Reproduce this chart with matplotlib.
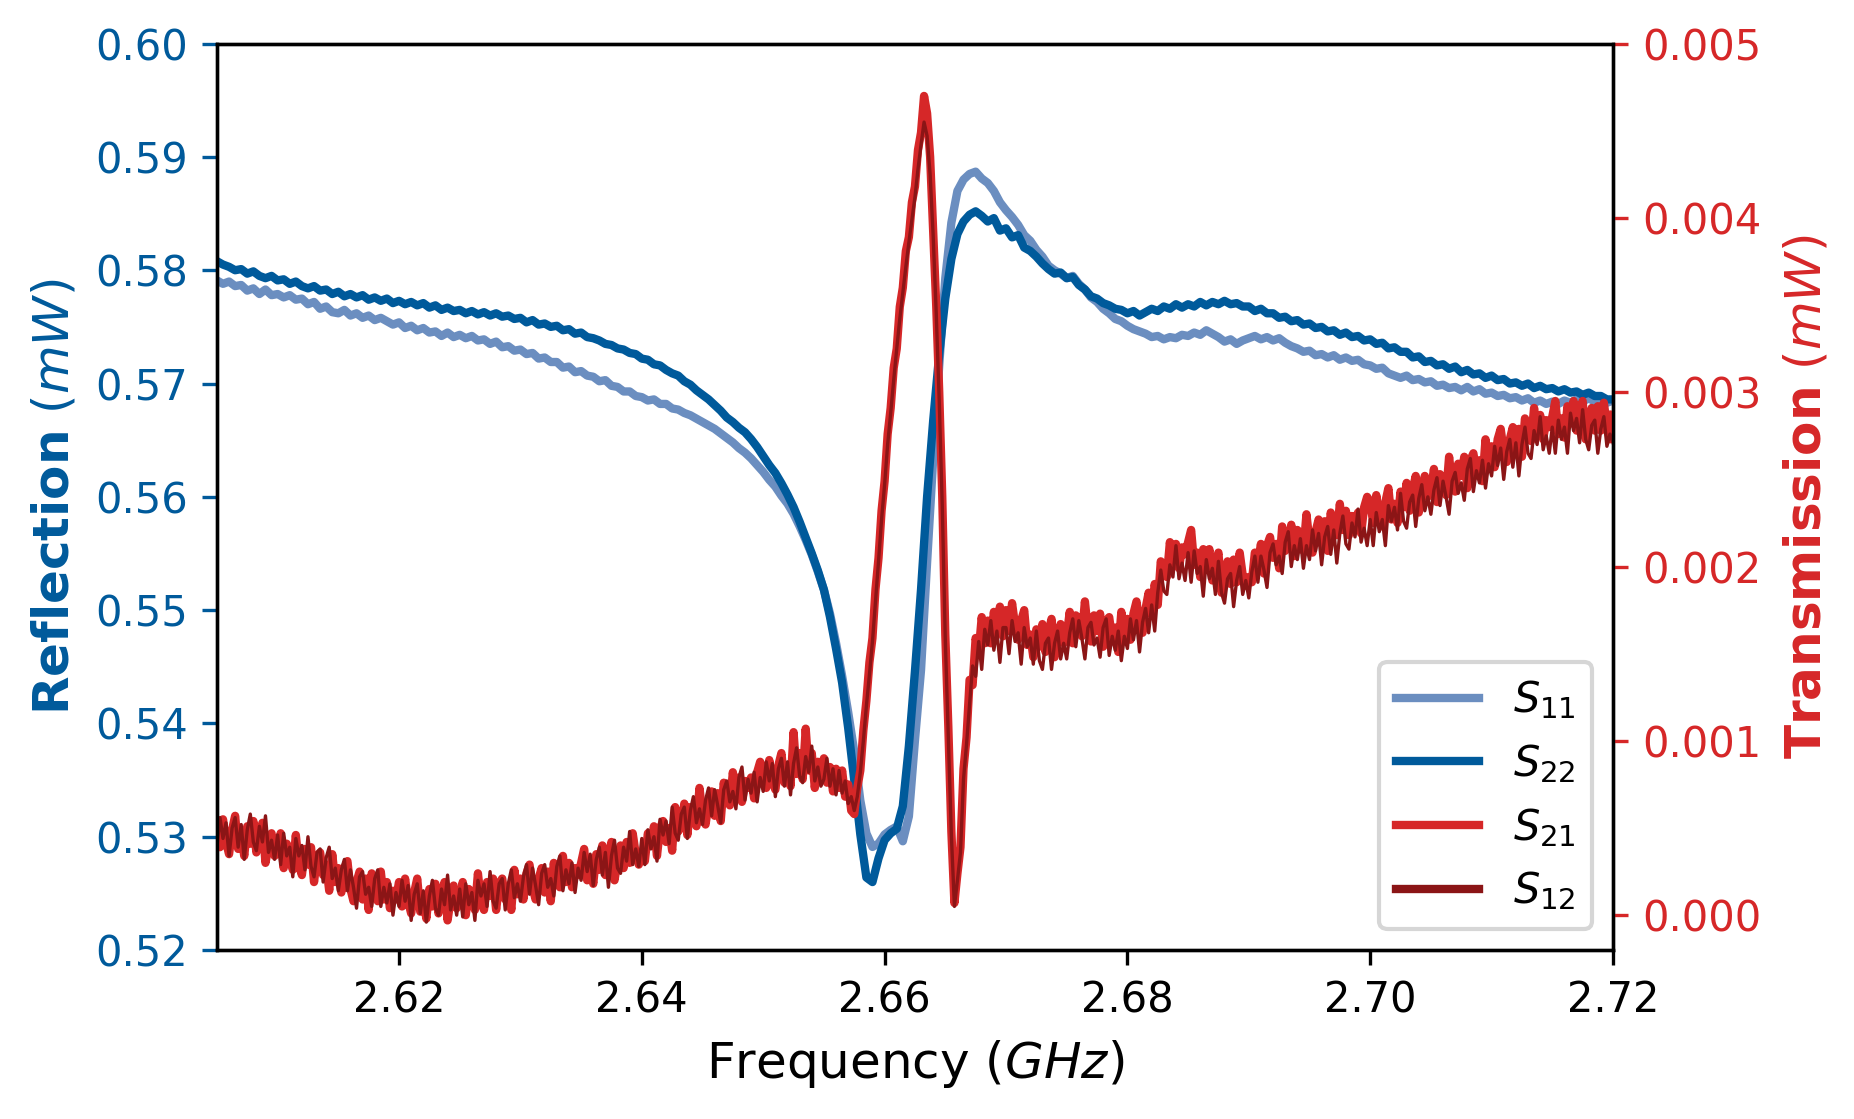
import numpy as np
import matplotlib
matplotlib.use('Agg')
from matplotlib import pyplot as plt

# reflection sweep: 231 points, transmission sweep: 461 points (2.605 - 2.720 GHz)
freq_r = np.linspace(2.605, 2.72, 231)
freq_t = np.linspace(2.605, 2.72, 461)

# reflection (mW)
s11 = [0.5791, 0.5788, 0.5790, 0.5786, 0.5787, 0.5782, 0.5784, 0.5779, 0.5783, 0.5778,
       0.5779, 0.5776, 0.5778, 0.5774, 0.5775, 0.5770, 0.5772, 0.5766, 0.5768, 0.5763,
       0.5762, 0.5765, 0.5760, 0.5762, 0.5758, 0.5760, 0.5756, 0.5758, 0.5755, 0.5752,
       0.5754, 0.5749, 0.5751, 0.5747, 0.5749, 0.5745, 0.5746, 0.5742, 0.5745, 0.5741,
       0.5743, 0.5740, 0.5742, 0.5738, 0.5739, 0.5735, 0.5737, 0.5732, 0.5733, 0.5729,
       0.5730, 0.5726, 0.5727, 0.5722, 0.5723, 0.5719, 0.5719, 0.5714, 0.5715, 0.5710,
       0.5711, 0.5707, 0.5706, 0.5702, 0.5703, 0.5698, 0.5697, 0.5693, 0.5693, 0.5689,
       0.5688, 0.5685, 0.5686, 0.5682, 0.5682, 0.5678, 0.5677, 0.5674, 0.5672, 0.5669,
       0.5666, 0.5663, 0.5660, 0.5656, 0.5652, 0.5648, 0.5643, 0.5639, 0.5634, 0.5628,
       0.5622, 0.5615, 0.5609, 0.5601, 0.5594, 0.5585, 0.5574, 0.5562, 0.5549, 0.5534,
       0.5518, 0.5497, 0.5471, 0.5442, 0.5410, 0.5375, 0.5332, 0.5303, 0.5291, 0.5294,
       0.5302, 0.5306, 0.5309, 0.5296, 0.5318, 0.5385, 0.5447, 0.5542, 0.5633, 0.5716,
       0.5793, 0.5842, 0.5870, 0.5880, 0.5885, 0.5887, 0.5881, 0.5877, 0.5870, 0.5860,
       0.5853, 0.5847, 0.5840, 0.5831, 0.5826, 0.5818, 0.5812, 0.5804, 0.5800, 0.5797,
       0.5793, 0.5795, 0.5788, 0.5783, 0.5776, 0.5772, 0.5766, 0.5762, 0.5757, 0.5755,
       0.5751, 0.5748, 0.5746, 0.5744, 0.5741, 0.5742, 0.5739, 0.5741, 0.5740, 0.5743,
       0.5742, 0.5745, 0.5743, 0.5747, 0.5744, 0.5741, 0.5737, 0.5739, 0.5735, 0.5738,
       0.5740, 0.5742, 0.5739, 0.5741, 0.5738, 0.5740, 0.5736, 0.5733, 0.5731, 0.5728,
       0.5729, 0.5725, 0.5726, 0.5723, 0.5725, 0.5721, 0.5723, 0.5720, 0.5721, 0.5717,
       0.5716, 0.5713, 0.5714, 0.5709, 0.5707, 0.5705, 0.5707, 0.5703, 0.5704, 0.5701,
       0.5702, 0.5698, 0.5699, 0.5696, 0.5697, 0.5694, 0.5697, 0.5693, 0.5695, 0.5691,
       0.5692, 0.5689, 0.5690, 0.5687, 0.5688, 0.5685, 0.5687, 0.5683, 0.5685, 0.5682,
       0.5684, 0.5682, 0.5685, 0.5683, 0.5686, 0.5684, 0.5687, 0.5684, 0.5686, 0.5683,
       0.5685]

s22 = [0.5808, 0.5805, 0.5803, 0.5800, 0.5801, 0.5797, 0.5799, 0.5795, 0.5793, 0.5795,
       0.5791, 0.5792, 0.5788, 0.5790, 0.5786, 0.5784, 0.5786, 0.5782, 0.5783, 0.5779,
       0.5781, 0.5777, 0.5779, 0.5776, 0.5778, 0.5774, 0.5776, 0.5773, 0.5775, 0.5771,
       0.5773, 0.5770, 0.5772, 0.5769, 0.5771, 0.5767, 0.5769, 0.5765, 0.5767, 0.5764,
       0.5765, 0.5762, 0.5764, 0.5761, 0.5763, 0.5760, 0.5762, 0.5759, 0.5760, 0.5757,
       0.5758, 0.5754, 0.5756, 0.5752, 0.5753, 0.5750, 0.5751, 0.5747, 0.5748, 0.5744,
       0.5745, 0.5741, 0.5740, 0.5738, 0.5735, 0.5734, 0.5731, 0.5730, 0.5727, 0.5726,
       0.5722, 0.5721, 0.5717, 0.5716, 0.5712, 0.5709, 0.5707, 0.5702, 0.5699, 0.5694,
       0.5690, 0.5686, 0.5681, 0.5676, 0.5670, 0.5666, 0.5661, 0.5657, 0.5651, 0.5644,
       0.5636, 0.5628, 0.5621, 0.5612, 0.5602, 0.5591, 0.5578, 0.5564, 0.5550, 0.5535,
       0.5518, 0.5494, 0.5466, 0.5436, 0.5396, 0.5350, 0.5302, 0.5264, 0.5260, 0.5281,
       0.5297, 0.5303, 0.5307, 0.5327, 0.5380, 0.5446, 0.5518, 0.5600, 0.5667, 0.5726,
       0.5775, 0.5810, 0.5832, 0.5843, 0.5849, 0.5852, 0.5848, 0.5843, 0.5846, 0.5835,
       0.5837, 0.5829, 0.5831, 0.5820, 0.5817, 0.5812, 0.5806, 0.5801, 0.5797, 0.5798,
       0.5793, 0.5794, 0.5787, 0.5783, 0.5777, 0.5775, 0.5771, 0.5769, 0.5766, 0.5765,
       0.5762, 0.5764, 0.5760, 0.5763, 0.5766, 0.5764, 0.5768, 0.5766, 0.5770, 0.5767,
       0.5770, 0.5768, 0.5772, 0.5769, 0.5772, 0.5770, 0.5773, 0.5770, 0.5771, 0.5768,
       0.5768, 0.5764, 0.5766, 0.5762, 0.5762, 0.5758, 0.5759, 0.5755, 0.5756, 0.5752,
       0.5753, 0.5749, 0.5750, 0.5746, 0.5747, 0.5743, 0.5745, 0.5741, 0.5742, 0.5738,
       0.5739, 0.5735, 0.5736, 0.5731, 0.5732, 0.5728, 0.5728, 0.5723, 0.5724, 0.5719,
       0.5720, 0.5716, 0.5717, 0.5713, 0.5715, 0.5710, 0.5712, 0.5708, 0.5709, 0.5705,
       0.5707, 0.5703, 0.5704, 0.5700, 0.5701, 0.5698, 0.5700, 0.5696, 0.5698, 0.5695,
       0.5696, 0.5693, 0.5695, 0.5692, 0.5693, 0.5690, 0.5692, 0.5689, 0.5689, 0.5686,
       0.5686]

# transmission (x 1e-3 mW)
s21 = [.51, .39, .55, .42, .35, .49, .57, .38, .46, .34, .51, .41, .54, .36, .46, .53, .30, .40, .47, .34,
       .36, .47, .27, .41, .37, .26, .46, .29, .23, .38, .29, .39, .19, .34, .36, .23, .29, .14, .35, .19,
       .27, .13, .27, .31, .15, .08, .19, .25, .09, .21, .03, .24, .13, .08, .25, .09, .19, .04, .14, .09,
       .19, .05, .21, .08, .01, .13, .21, .02, .10, -.02, .15, .05, .18, .01, .12, .19, -.03, .09, .17, .04,
       .07, .19, .00, .15, .13, .03, .24, .08, .03, .19, .11, .21, .03, .18, .21, .09, .16, .03, .26, .12,
       .21, .09, .24, .29, .16, .09, .21, .27, .13, .25, .08, .30, .20, .16, .34, .19, .30, .16, .27, .23,
       .30, .38, .20, .29, .18, .35, .26, .40, .23, .34, .42, .20, .31, .40, .27, .42, .30, .47, .35, .29,
       .35, .31, .47, .40, .51, .34, .50, .54, .42, .50, .37, .62, .48, .51, .64, .46, .62, .60, .51, .73,
       .58, .52, .64, .71, .57, .70, .54, .76, .67, .63, .82, .67, .79, .65, .77, .73, .79, .67, .82, .88,
       .83, .73, .89, .77, .72, .86, .93, .76, .85, .74, 1.05, .81, .93, .78, 1.07, .83, .93, .73, .88, .79,
       .90, .76, .85, .71, .84, .73, .83, .68, .75, .60, .58, .73, .83, 1.06, 1.23, 1.45, 1.59, 1.87, 2.05, 2.32,
       2.49, 2.76, 2.91, 3.14, 3.25, 3.49, 3.60, 3.81, 3.89, 4.09, 4.18, 4.39, 4.49, 4.70, 4.60, 4.35, 3.93, 3.50, 3.00, 2.40,
       1.61, 1.08, .48, .07, .24, .39, .84, 1.02, 1.35, 1.32, 1.59, 1.51, 1.71, 1.56, 1.69, 1.56, 1.74, 1.63, 1.77, 1.60,
       1.75, 1.63, 1.79, 1.66, 1.58, 1.69, 1.75, 1.55, 1.61, 1.48, 1.64, 1.54, 1.67, 1.51, 1.62, 1.70, 1.48, 1.59, 1.67, 1.56,
       1.60, 1.74, 1.56, 1.72, 1.70, 1.60, 1.80, 1.63, 1.57, 1.72, 1.63, 1.73, 1.54, 1.69, 1.71, 1.58, 1.65, 1.51, 1.74, 1.60,
       1.70, 1.58, 1.73, 1.80, 1.67, 1.62, 1.76, 1.85, 1.73, 1.90, 1.78, 2.03, 1.97, 1.94, 2.14, 2.00, 2.13, 1.99, 2.11, 2.07,
       2.14, 2.21, 2.01, 2.08, 1.94, 2.10, 1.98, 2.10, 1.92, 2.02, 2.08, 1.85, 1.95, 2.03, 1.90, 2.04, 1.91, 2.08, 1.95, 1.89,
       1.94, 1.91, 2.08, 2.02, 2.13, 1.96, 2.12, 2.17, 2.05, 2.13, 1.99, 2.23, 2.09, 2.12, 2.24, 2.06, 2.21, 2.19, 2.09, 2.30,
       2.14, 2.08, 2.20, 2.27, 2.13, 2.26, 2.09, 2.31, 2.22, 2.18, 2.36, 2.21, 2.32, 2.18, 2.29, 2.25, 2.31, 2.19, 2.34, 2.40,
       2.37, 2.25, 2.41, 2.29, 2.23, 2.37, 2.45, 2.27, 2.36, 2.25, 2.43, 2.34, 2.48, 2.32, 2.44, 2.52, 2.31, 2.43, 2.52, 2.40,
       2.43, 2.56, 2.37, 2.53, 2.50, 2.41, 2.63, 2.47, 2.43, 2.59, 2.52, 2.63, 2.45, 2.61, 2.65, 2.53, 2.61, 2.49, 2.73, 2.59,
       2.69, 2.57, 2.73, 2.79, 2.66, 2.60, 2.73, 2.80, 2.66, 2.79, 2.63, 2.85, 2.76, 2.72, 2.91, 2.76, 2.87, 2.73, 2.84, 2.80,
       2.86, 2.95, 2.76, 2.85, 2.74, 2.92, 2.82, 2.95, 2.78, 2.89, 2.95, 2.73, 2.83, 2.91, 2.78, 2.92, 2.78, 2.94, 2.80, 2.73,
       2.87]

s12 = [.39, .56, .44, .53, .34, .50, .56, .39, .52, .32, .49, .58, .42, .37, .51, .42, .57, .36, .43, .32,
       .46, .29, .47, .34, .39, .22, .44, .34, .40, .26, .45, .28, .22, .36, .38, .19, .33, .39, .21, .27,
       .14, .26, .32, .14, .26, .16, .04, .22, .25, .12, .16, .05, .21, .26, .05, .16, .07, .18, .00, .13,
       .05, .20, .08, .17, -.03, .12, .18, .01, .14, -.04, .11, .20, .04, .00, .15, .06, .23, .03, .11, .00,
       .15, -.01, .18, .06, .13, -.03, .20, .11, .18, .05, .25, .08, .04, .18, .21, .03, .18, .26, .10, .18,
       .08, .22, .29, .12, .27, .17, .06, .24, .29, .16, .21, .11, .28, .34, .14, .26, .18, .30, .13, .27,
       .20, .36, .25, .35, .17, .32, .39, .23, .36, .16, .34, .43, .27, .24, .39, .31, .48, .29, .38, .28,
       .44, .29, .49, .38, .45, .31, .55, .46, .54, .41, .62, .47, .43, .58, .62, .44, .60, .68, .53, .61,
       .52, .66, .73, .57, .72, .63, .53, .72, .77, .65, .71, .61, .79, .85, .66, .78, .70, .82, .65, .79,
       .71, .88, .77, .87, .68, .84, .90, .74, .88, .69, .87, .96, .80, .76, .91, .82, .97, .77, .85, .74,
       .78, .90, .74, .84, .69, .83, .70, .77, .64, .68, .60, .68, .82, 1.00, 1.20, 1.38, 1.57, 1.80, 2.03, 2.27,
       2.47, 2.70, 2.88, 3.07, 3.25, 3.42, 3.57, 3.72, 3.86, 3.99, 4.12, 4.28, 4.42, 4.55, 4.47, 4.25, 3.90, 3.46, 2.95, 2.35,
       1.58, 1.02, .46, .05, .20, .36, .78, .98, 1.21, 1.43, 1.37, 1.57, 1.41, 1.64, 1.55, 1.69, 1.52, 1.63, 1.45, 1.65,
       1.65, 1.50, 1.69, 1.57, 1.62, 1.44, 1.65, 1.54, 1.59, 1.44, 1.63, 1.46, 1.41, 1.56, 1.59, 1.41, 1.56, 1.63, 1.47, 1.56,
       1.47, 1.62, 1.70, 1.54, 1.69, 1.59, 1.47, 1.65, 1.68, 1.55, 1.59, 1.48, 1.65, 1.70, 1.49, 1.60, 1.52, 1.63, 1.46, 1.60,
       1.53, 1.70, 1.58, 1.69, 1.51, 1.68, 1.76, 1.62, 1.78, 1.63, 1.85, 1.98, 1.86, 1.84, 2.01, 1.94, 2.12, 1.93, 2.02, 1.92,
       2.08, 1.91, 2.09, 1.96, 2.00, 1.83, 2.04, 1.93, 1.99, 1.84, 2.03, 1.85, 1.79, 1.93, 1.96, 1.77, 1.92, 2.00, 1.84, 1.92,
       1.82, 1.97, 2.06, 1.91, 2.06, 1.98, 1.88, 2.08, 2.13, 2.01, 2.06, 1.96, 2.14, 2.20, 2.00, 2.12, 2.04, 2.16, 1.99, 2.12,
       2.04, 2.21, 2.09, 2.19, 2.01, 2.17, 2.23, 2.07, 2.21, 2.02, 2.19, 2.29, 2.13, 2.10, 2.25, 2.17, 2.33, 2.14, 2.22, 2.12,
       2.27, 2.12, 2.31, 2.20, 2.27, 2.12, 2.35, 2.26, 2.34, 2.21, 2.42, 2.26, 2.22, 2.37, 2.41, 2.23, 2.39, 2.47, 2.32, 2.40,
       2.30, 2.44, 2.51, 2.35, 2.49, 2.40, 2.30, 2.49, 2.54, 2.42, 2.48, 2.38, 2.56, 2.62, 2.43, 2.55, 2.48, 2.61, 2.45, 2.59,
       2.52, 2.69, 2.58, 2.68, 2.50, 2.66, 2.73, 2.57, 2.71, 2.52, 2.70, 2.80, 2.65, 2.62, 2.78, 2.70, 2.86, 2.67, 2.75, 2.65,
       2.80, 2.65, 2.84, 2.73, 2.80, 2.65, 2.88, 2.78, 2.85, 2.71, 2.90, 2.73, 2.67, 2.81, 2.84, 2.65, 2.79, 2.86, 2.69, 2.76,
       2.71]

c_s11 = '#6b8ec0'
c_s22 = '#005a9b'
c_s21 = '#d62728'
c_s12 = '#8b1516'

fig = plt.figure(figsize=(6.18, 3.73), dpi=300)
ax1 = fig.add_axes((0.117, 0.151, 0.753, 0.810))
ax2 = ax1.twinx()

l11, = ax1.plot(freq_r, s11, color=c_s11, lw=2, label='$S_{11}$')
l22, = ax1.plot(freq_r, s22, color=c_s22, lw=2, label='$S_{22}$')
l21, = ax2.plot(freq_t, np.array(s21)*1e-3, color=c_s21, lw=2, label='$S_{21}$')
l12, = ax2.plot(freq_t, np.array(s12)*1e-3, color=c_s12, lw=0.8, label='$S_{12}$')

ax1.set_xlim(2.605, 2.72)
ax1.set_xticks([2.62, 2.64, 2.66, 2.68, 2.70, 2.72])
ax1.set_xticklabels(['2.62', '2.64', '2.66', '2.68', '2.70', '2.72'], fontsize=10)
ax1.set_ylim(0.52, 0.60)
ax1.set_yticks(np.arange(0.52, 0.6001, 0.01))
ax1.set_yticklabels(['%.2f' % v for v in np.arange(0.52, 0.6001, 0.01)], fontsize=10)
ax1.tick_params(axis='y', colors=c_s22)
ax2.set_ylim(-0.0002, 0.005)
ax2.set_yticks(np.arange(0, 0.00501, 0.001))
ax2.set_yticklabels(['%.3f' % v for v in np.arange(0, 0.00501, 0.001)], fontsize=10)
ax2.tick_params(axis='y', colors=c_s21)

ax1.set_xlabel('Frequency ($GHz$)', fontsize=12)
ax1.set_ylabel(r'$\mathbf{Reflection}$ ($mW$)', fontsize=12, color=c_s22, labelpad=4)
ax2.set_ylabel(r'$\mathbf{Transmission}$ ($mW$)', fontsize=12, color=c_s21, labelpad=5)

leg = ax2.legend(handles=[l11, l22, l21, l12], loc='lower right', fontsize=10)
for h in leg.get_lines():
    h.set_linewidth(2)

fig.savefig('out.png', dpi=300)
